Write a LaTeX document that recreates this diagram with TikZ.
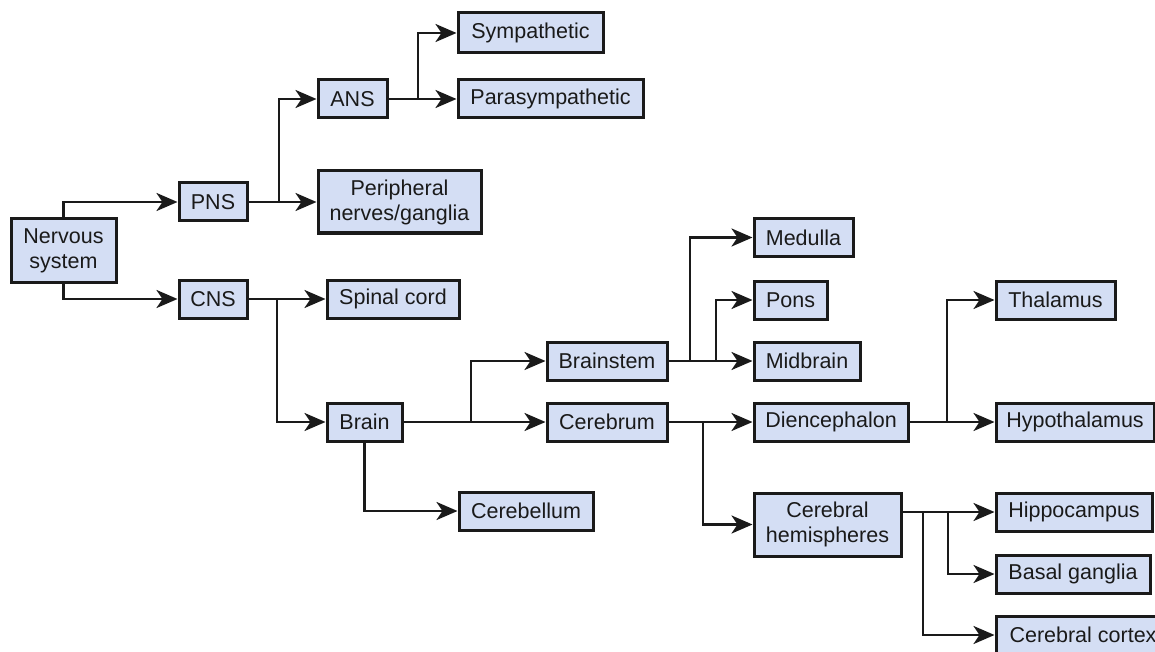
\documentclass[tikz,border=0pt]{standalone}
\usepackage{fontspec}
\setmainfont{Liberation Sans}
\usetikzlibrary{arrows.meta}
\definecolor{boxfill}{RGB}{212,222,244}
\definecolor{ink}{RGB}{26,26,26}
\begin{document}
\begin{tikzpicture}[x=1pt,y=-1pt,
  box/.style={draw=ink, line width=3pt, fill=boxfill, inner sep=0pt,
    minimum height=38pt, align=center, text=ink,
    font=\fontsize{21.5}{25}\selectfont},
  link/.style={draw=ink, line width=2.8pt},
  arr/.style={link, -{Stealth[length=21pt,width=18pt,inset=6pt]}}]
  \useasboundingbox (0,0) rectangle (1155,652);
  \fill[white] (0,0) rectangle (1155,652);
  \clip (0,0) rectangle (1155,652);

  % boxes
  \node[box, minimum width=105pt, minimum height=63pt] (ns) at (63.5,250.5) {Nervous\\system};
  \node[box, minimum width=68pt] (pns) at (213,202) {PNS};
  \node[box, minimum width=68pt] (cns) at (213,299) {CNS};
  \node[box, minimum width=69pt] (ans) at (352.5,99) {ANS};
  \node[box, minimum width=145pt, minimum height=40pt] (symp) at (530.5,33) {Sympathetic};
  \node[box, minimum width=185pt] (para) at (550.5,99) {Parasympathetic};
  \node[box, minimum width=163pt, minimum height=62pt] (periph) at (399.5,202) {Peripheral\\nerves/ganglia};
  \node[box, minimum width=132pt] (spinal) at (393,299) {Spinal cord};
  \node[box, minimum width=75pt] (brain) at (364.5,422) {Brain};
  \node[box, minimum width=134pt] (cbl) at (526,511) {Cerebellum};
  \node[box, minimum width=120pt] (bstem) at (607,361) {Brainstem};
  \node[box, minimum width=120pt] (cbr) at (607,422) {Cerebrum};
  \node[box, minimum width=99pt] (med) at (803.5,237.5) {Medulla};
  \node[box, minimum width=73pt] (pons) at (790.5,300) {Pons};
  \node[box, minimum width=106pt] (mid) at (807,361) {Midbrain};
  \node[box, minimum width=154pt] (dien) at (831,422) {Diencephalon};
  \node[box, minimum width=119pt] (thal) at (1055.5,300) {Thalamus};
  \node[box, minimum width=158pt] (hypo) at (1075,422) {Hypothalamus};
  \node[box, minimum width=147pt, minimum height=63pt] (hemi) at (827.5,524.5) {Cerebral\\hemispheres};
  \node[box, minimum width=156pt] (hippo) at (1074,512) {Hippocampus};
  \node[box, minimum width=154pt] (basal) at (1073,574) {Basal ganglia};
  \node[box, minimum width=174pt] (cortex) at (1083,635) {Cerebral cortex};

  % branch points
  \coordinate (jpns) at (279,0);
  \coordinate (jans) at (418,0);
  \coordinate (jcns) at (277,0);
  \coordinate (jbrain) at (471,0);
  \coordinate (jmed) at (690,0);
  \coordinate (jpons) at (716,0);
  \coordinate (jcbr) at (703,0);
  \coordinate (jdien) at (947,0);
  \coordinate (jcortex) at (923,0);
  \coordinate (jbasal) at (948,0);

  % connectors
  \draw[arr] (ns.north) |- (pns.west);
  \draw[arr] (ns.south) |- (cns.west);

  \draw[arr] (pns.east) -- (periph.west);
  \draw[arr] (jpns |- pns.east) |- (ans.west);
  \draw[arr] (ans.east) -- (para.west);
  \draw[arr] (jans |- ans.east) |- (symp.west);

  \draw[arr] (cns.east) -- (spinal.west);
  \draw[arr] (jcns |- cns.east) |- (brain.west);

  \draw[arr] (brain.east) -- (cbr.west);
  \draw[arr] (jbrain |- brain.east) |- (bstem.west);
  \draw[arr] (brain.south) |- (cbl.west);

  \draw[arr] (bstem.east) -- (mid.west);
  \draw[arr] (jmed |- bstem.east) |- (med.west);
  \draw[arr] (jpons |- bstem.east) |- (pons.west);

  \draw[arr] (cbr.east) -- (dien.west);
  \draw[arr] (jcbr |- cbr.east) |- (hemi.west);

  \draw[arr] (dien.east) -- (hypo.west);
  \draw[arr] (jdien |- dien.east) |- (thal.west);

  \draw[arr] (hemi.east |- hippo.west) -- (hippo.west);
  \draw[arr] (jcortex |- hippo.west) |- (cortex.west);
  \draw[arr] (jbasal |- hippo.west) |- (basal.west);
\end{tikzpicture}
\end{document}
